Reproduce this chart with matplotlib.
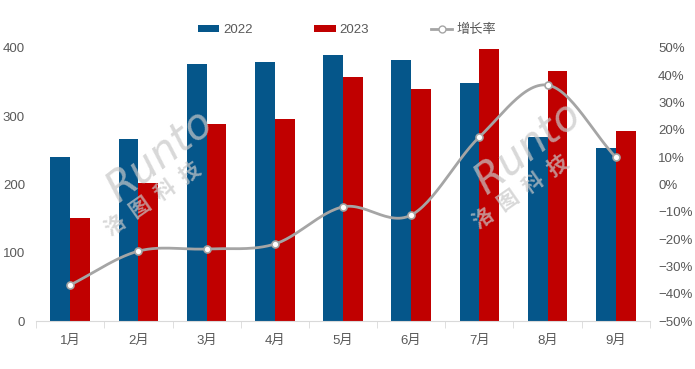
import numpy as np
import matplotlib
matplotlib.use('Agg')
from matplotlib import pyplot as plt
from matplotlib.ticker import FuncFormatter

plt.rcParams['font.family'] = ['Liberation Sans', 'Noto Sans CJK SC']
plt.rcParams['axes.unicode_minus'] = True

months = ['1月', '2月', '3月', '4月', '5月', '6月', '7月', '8月', '9月']
sales2022 = [240, 267, 377, 379, 389, 382, 349, 269, 253]
sales2023 = [151, 202, 289, 296, 358, 340, 399, 366, 278]
growth = [-36.8, -24.4, -23.6, -21.8, -8.2, -11.2, 17.4, 36.4, 10.0]

blue = '#05568A'
red = '#C00000'
gray = '#A5A5A5'
txt = '#595959'


def smooth(xs, ys, n=30):
    # catmull-rom curve through the points, like the excel smooth line
    xs = np.asarray(xs, float)
    ys = np.asarray(ys, float)
    px = np.concatenate([[2 * xs[0] - xs[1]], xs, [2 * xs[-1] - xs[-2]]])
    py = np.concatenate([[2 * ys[0] - ys[1]], ys, [2 * ys[-1] - ys[-2]]])
    ox, oy = [], []
    t = np.linspace(0, 1, n)
    for i in range(1, len(px) - 2):
        for p, out in ((px, ox), (py, oy)):
            p0, p1, p2, p3 = p[i - 1], p[i], p[i + 1], p[i + 2]
            out.extend(0.5 * ((2 * p1) + (-p0 + p2) * t
                              + (2 * p0 - 5 * p1 + 4 * p2 - p3) * t ** 2
                              + (-p0 + 3 * p1 - 3 * p2 + p3) * t ** 3))
    return ox, oy


fig = plt.figure(figsize=(6.95, 3.69), dpi=100)
ax = fig.add_axes([0.052, 0.130, 0.883, 0.740])
x = np.arange(len(months))
w = 0.29
b1 = ax.bar(x - w / 2, sales2022, w, color=blue, label='2022', zorder=2)
b2 = ax.bar(x + w / 2, sales2023, w, color=red, label='2023', zorder=2)
ax.set_xlim(-0.5, len(months) - 0.5)
ax.set_ylim(0, 400)
ax.set_yticks(range(0, 401, 100))
ax.set_xticks(x)
ax.set_xticklabels(months)
for s in ['top', 'right', 'left']:
    ax.spines[s].set_visible(False)
ax.spines['bottom'].set_color('#D9D9D9')
ax.tick_params(axis='y', length=0, colors=txt, labelsize=9.5, pad=8)
ax.tick_params(axis='x', length=0, colors=txt, labelsize=9.5, pad=10)
ax.set_xticks(np.arange(-0.5, len(months), 1), minor=True)
ax.tick_params(axis='x', which='minor', length=5, color='#D9D9D9', direction='out')

ax2 = ax.twinx()
ax2.set_ylim(-50, 50)
ax2.set_yticks(range(-50, 51, 10))
ax2.yaxis.set_major_formatter(FuncFormatter(lambda v, p: f'{v:.0f}%'.replace('-', '\u2212')))
for s in ax2.spines.values():
    s.set_visible(False)
ax2.tick_params(axis='y', length=0, colors=txt, labelsize=9.5, pad=6)
sx, sy = smooth(x, growth)
ax2.plot(sx, sy, color=gray, lw=2, zorder=3)
ax2.plot(x, growth, ls='none', marker='o', ms=5, mfc='white', mec=gray, mew=1.2, zorder=4)
line_h, = ax2.plot([], [], color=gray, lw=2, marker='o', ms=5, mfc='white', mec=gray, label='增长率')

# watermark
for cx, cy in [(0.23, 0.52), (0.76, 0.54)]:
    fig.text(cx, cy + 0.06, 'Runto', fontsize=30, style='italic', color='#C8C8C8', alpha=0.7,
             rotation=38, ha='center', va='center', family=['DejaVu Sans'])
    fig.text(cx - 0.01, cy - 0.06, '洛  图  科  技', fontsize=15, color='#C8C8C8', alpha=0.7,
             fontweight='bold', rotation=35, ha='center', va='center', family=['Noto Sans CJK SC'])

fig.legend(handles=[b1, b2, line_h], loc='center', bbox_to_anchor=(0.499, 0.918), ncol=3,
           frameon=False, fontsize=9.5, labelcolor=txt, columnspacing=4.7, handlelength=1.6,
           handleheight=0.5, handletextpad=0.3)

fig.savefig('out.png', dpi=100)
